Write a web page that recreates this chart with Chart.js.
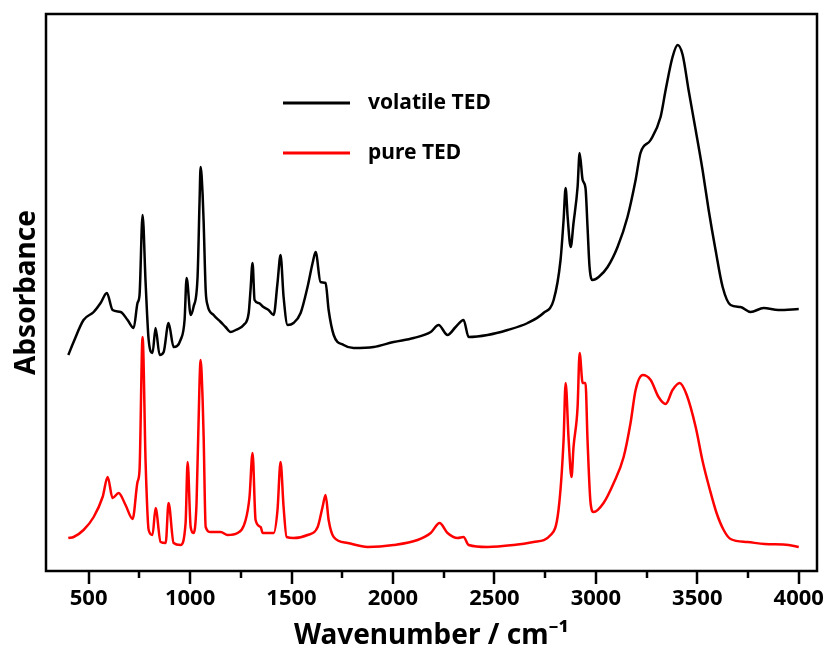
<!DOCTYPE html>
<html>
<head>
<meta charset="utf-8">
<script src="https://cdn.jsdelivr.net/npm/chart.js@4.4.1/dist/chart.umd.min.js"></script>
<style>
  html, body { margin: 0; padding: 0; background: #fff; }
  canvas { display: block; }
</style>
</head>
<body>
<canvas id="ftirChart" width="832" height="661"></canvas>
<script>
// volatile TED (black)
const volatileWavenumber = [400, 426, 475, 525, 559, 590, 618, 658, 692, 722, 741, 751, 766, 781, 796, 815, 830, 850, 870, 894, 919, 953, 973, 983, 1003, 1017, 1037, 1047, 1052, 1062, 1067, 1077, 1086, 1116, 1151, 1175, 1200, 1225, 1264, 1289, 1298, 1308, 1318, 1338, 1362, 1387, 1412, 1431, 1446, 1461, 1481, 1510, 1545, 1579, 1604, 1619, 1643, 1668, 1683, 1708, 1757, 1806, 1905, 2003, 2102, 2186, 2225, 2269, 2309, 2348, 2373, 2466, 2565, 2664, 2742, 2792, 2826, 2841, 2851, 2861, 2876, 2890, 2910, 2920, 2935, 2949, 2959, 2969, 2984, 3014, 3058, 3107, 3156, 3196, 3220, 3270, 3319, 3344, 3378, 3403, 3428, 3457, 3492, 3526, 3556, 3590, 3625, 3664, 3713, 3763, 3827, 3900, 4000];
const volatileAbs = [2.16, 2.29, 2.51, 2.59, 2.68, 2.78, 2.61, 2.59, 2.51, 2.43, 2.68, 2.76, 3.56, 2.88, 2.31, 2.18, 2.43, 2.16, 2.19, 2.48, 2.24, 2.31, 2.51, 2.93, 2.56, 2.64, 2.94, 3.71, 4.04, 3.76, 3.49, 2.81, 2.66, 2.56, 2.49, 2.44, 2.39, 2.41, 2.46, 2.58, 2.81, 3.08, 2.71, 2.68, 2.64, 2.61, 2.56, 2.88, 3.16, 2.74, 2.46, 2.48, 2.58, 2.84, 3.08, 3.19, 2.89, 2.88, 2.61, 2.36, 2.26, 2.23, 2.24, 2.29, 2.33, 2.39, 2.46, 2.36, 2.44, 2.51, 2.34, 2.36, 2.41, 2.48, 2.58, 2.71, 3.11, 3.51, 3.83, 3.54, 3.24, 3.48, 3.84, 4.18, 3.91, 3.83, 3.44, 3.04, 2.91, 2.94, 3.04, 3.24, 3.54, 3.91, 4.18, 4.31, 4.54, 4.81, 5.14, 5.26, 5.16, 4.81, 4.41, 4.01, 3.61, 3.21, 2.84, 2.66, 2.64, 2.59, 2.63, 2.61, 2.62];

// pure TED (red)
const pureWavenumber = [400, 426, 475, 525, 569, 594, 618, 648, 682, 717, 741, 751, 766, 781, 796, 815, 830, 855, 880, 894, 919, 953, 978, 988, 1003, 1017, 1032, 1047, 1052, 1062, 1067, 1077, 1101, 1151, 1185, 1234, 1274, 1293, 1308, 1323, 1348, 1358, 1412, 1431, 1446, 1461, 1476, 1510, 1579, 1629, 1653, 1668, 1683, 1708, 1777, 1875, 2003, 2121, 2186, 2230, 2269, 2319, 2348, 2373, 2466, 2595, 2693, 2777, 2816, 2841, 2851, 2866, 2880, 2890, 2910, 2920, 2935, 2949, 2959, 2974, 2989, 3038, 3088, 3137, 3171, 3196, 3231, 3270, 3309, 3344, 3378, 3413, 3448, 3492, 3526, 3561, 3595, 3630, 3664, 3748, 3832, 3950, 4000];
const pureAbs = [0.33, 0.34, 0.41, 0.54, 0.74, 0.94, 0.73, 0.78, 0.66, 0.52, 0.89, 1.01, 2.34, 1.08, 0.41, 0.36, 0.63, 0.29, 0.28, 0.68, 0.28, 0.26, 0.48, 1.09, 0.44, 0.38, 0.68, 1.91, 2.11, 1.71, 1.34, 0.44, 0.39, 0.39, 0.36, 0.38, 0.51, 0.74, 1.18, 0.51, 0.44, 0.38, 0.38, 0.61, 1.09, 0.64, 0.34, 0.33, 0.36, 0.44, 0.64, 0.76, 0.51, 0.34, 0.28, 0.24, 0.26, 0.31, 0.38, 0.48, 0.38, 0.33, 0.34, 0.26, 0.24, 0.26, 0.29, 0.36, 0.61, 1.31, 1.88, 1.31, 0.94, 1.24, 1.64, 2.18, 1.88, 1.88, 1.31, 0.68, 0.59, 0.68, 0.88, 1.14, 1.48, 1.81, 1.96, 1.91, 1.74, 1.67, 1.81, 1.88, 1.76, 1.44, 1.10, 0.82, 0.58, 0.41, 0.32, 0.29, 0.27, 0.26, 0.24];

const seriesLabels = ['volatile TED', 'pure TED'];
const xMajorTicks = [500, 1000, 1500, 2000, 2500, 3000, 3500, 4000];
const xMinorTicks = [750, 1250, 1750, 2250, 2750, 3250, 3750];

const toPoints = (xs, ys) => xs.map((x, i) => ({ x: x, y: ys[i] }));
const fontFamily = '"Noto Sans", "Open Sans", sans-serif';

// box around plot + outward tick marks (major and minor)
const framePlugin = {
    id: 'frame',
    afterDraw(chart) {
        const { ctx, chartArea: a, scales } = chart;
        ctx.save();
        ctx.strokeStyle = '#000';
        ctx.lineWidth = 2.5;
        ctx.strokeRect(a.left, a.top, a.right - a.left, a.bottom - a.top);
        const drawTick = (v, len) => {
            const px = Math.round(scales.x.getPixelForValue(v));
            ctx.beginPath();
            ctx.moveTo(px, a.bottom);
            ctx.lineTo(px, a.bottom + len);
            ctx.stroke();
        };
        xMajorTicks.forEach(v => drawTick(v, 13));
        xMinorTicks.forEach(v => drawTick(v, 7));
        ctx.restore();
    }
};

// legend drawn inside the plot
const innerLegend = {
    id: 'innerLegend',
    afterDraw(chart) {
        const { ctx, chartArea: a } = chart;
        ctx.save();
        ctx.font = 'bold 21px ' + fontFamily;
        ctx.textBaseline = 'middle';
        chart.data.datasets.forEach((ds, i) => {
            const y = a.top + 89 + i * 50;
            const x0 = a.left + 237;
            ctx.strokeStyle = ds.borderColor;
            ctx.lineWidth = 3;
            ctx.beginPath();
            ctx.moveTo(x0, y);
            ctx.lineTo(x0 + 67, y);
            ctx.stroke();
            ctx.fillStyle = '#000';
            ctx.fillText(ds.label, x0 + 85, y);
        });
        ctx.restore();
    }
};

new Chart(document.getElementById('ftirChart'), {
    type: 'line',
    data: {
        datasets: [{
            label: seriesLabels[0],
            data: toPoints(volatileWavenumber, volatileAbs),
            borderColor: '#000000',
            borderWidth: 2.5,
            pointRadius: 0,
            cubicInterpolationMode: 'monotone'
        }, {
            label: seriesLabels[1],
            data: toPoints(pureWavenumber, pureAbs),
            borderColor: '#ff0000',
            borderWidth: 2.5,
            pointRadius: 0,
            cubicInterpolationMode: 'monotone'
        }]
    },
    options: {
        responsive: false,
        animation: false,
        layout: { padding: { top: 14, right: 15, left: 0, bottom: 0 } },
        plugins: {
            legend: { display: false },
            tooltip: { enabled: false }
        },
        scales: {
            x: {
                type: 'linear',
                min: 290,
                max: 4090,
                afterBuildTicks: scale => {
                    scale.ticks = xMajorTicks.map(v => ({ value: v }));
                },
                afterFit: scale => { scale.height = 90; },
                border: { display: false },
                grid: {
                    display: true,
                    drawOnChartArea: false,
                    drawTicks: true,
                    tickLength: 13,
                    color: 'rgba(0,0,0,0)',
                    tickColor: 'rgba(0,0,0,0)'
                },
                ticks: {
                    color: '#000',
                    padding: 2,
                    maxRotation: 0,
                    callback: v => String(v),
                    font: { family: fontFamily, size: 22, weight: 'bold' }
                },
                title: {
                    display: true,
                    text: 'Wavenumber / cm\u207B\u00B9',
                    color: '#000',
                    padding: { bottom: 8 },
                    font: { family: fontFamily, size: 28, weight: 'bold' }
                }
            },
            y: {
                min: 0,
                max: 5.57,
                afterFit: scale => { scale.width = 46; },
                border: { display: false },
                grid: { display: false },
                ticks: { display: false },
                title: {
                    display: true,
                    text: 'Absorbance',
                    color: '#000',
                    padding: { top: 10 },
                    font: { family: fontFamily, size: 28, weight: 'bold' }
                }
            }
        }
    },
    plugins: [framePlugin, innerLegend]
});
</script>
</body>
</html>
